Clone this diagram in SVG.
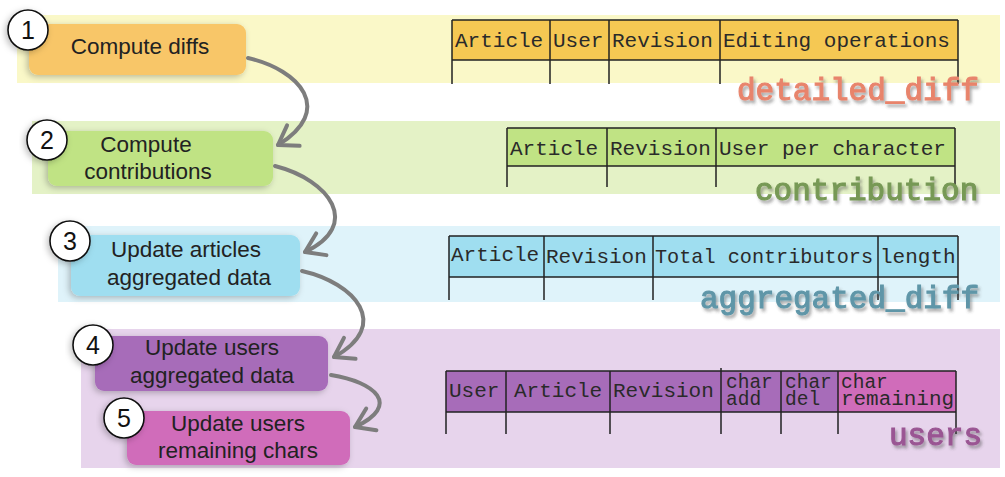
<svg xmlns="http://www.w3.org/2000/svg" width="1005" height="477" viewBox="0 0 1005 477">
<style>
.band{stroke:none}
.box{stroke:none;filter:url(#bs)}
.num{fill:#fff;stroke:#111;stroke-width:1.6;filter:url(#bs)}
.numt{font-family:"Liberation Sans",Arial,sans-serif;font-size:25px;fill:#111;text-anchor:middle}
.bt{font-family:"Liberation Sans",Arial,sans-serif;font-size:22.5px;fill:#222;text-anchor:middle}
.tt{font-family:"Liberation Mono","Courier New",monospace;font-size:21px;fill:#2a2a2a}
.ts{font-family:"Liberation Mono","Courier New",monospace;font-size:19.5px;fill:#2a2a2a}
.tl{stroke:#222;stroke-width:1.5;fill:none}
.lab{font-family:"Liberation Mono","Courier New",monospace;font-size:31px;stroke-width:1.1;filter:url(#ts)}
.arr{fill:none;stroke:#7d7d7d;stroke-width:4;stroke-linecap:round;marker-end:url(#ah)}
</style>
<defs>
<filter id="bs" x="-20%" y="-30%" width="140%" height="160%">
<feDropShadow dx="-2" dy="2" stdDeviation="3" flood-color="#000" flood-opacity="0.25"/>
</filter>
<filter id="ts" x="-10%" y="-30%" width="120%" height="160%">
<feDropShadow dx="2" dy="3" stdDeviation="1.6" flood-color="#444" flood-opacity="0.45"/>
</filter>
<marker id="ah" markerUnits="userSpaceOnUse" viewBox="-22 -16 26 32" refX="0" refY="0" markerWidth="26" markerHeight="32" orient="auto" overflow="visible">
<path d="M -18 -12 L 0 0 L -18 12" fill="none" stroke="#7d7d7d" stroke-width="4" stroke-linecap="round" stroke-linejoin="round"/>
</marker>
</defs>
<rect width="1005" height="477" fill="#fff"/>
<g id="bands">
<rect class="band" x="17" y="15" width="983" height="68" fill="#FAF8C8"/>
<rect class="band" x="32" y="121" width="968" height="73" fill="#E4F2C6"/>
<rect class="band" x="58" y="226" width="942" height="76" fill="#DFF3FA"/>
<rect class="band" x="81" y="329" width="919" height="139" fill="#E7D4EC"/>
</g>
<g id="step1">
<rect class="box" x="29" y="24" width="217" height="51" rx="9" fill="#F8C668"/>
<circle class="num" cx="28" cy="30" r="20"/>
<text class="numt" x="28" y="39">1</text>
<text class="bt" x="140" y="54">Compute diffs</text>
</g>
<g id="step2">
<rect class="box" x="48" y="131" width="225" height="55" rx="9" fill="#C0E384"/>
<circle class="num" cx="47" cy="140" r="20"/>
<text class="numt" x="47" y="149">2</text>
<text class="bt" x="146" y="152">Compute</text>
<text class="bt" x="148" y="179">contributions</text>
</g>
<g id="step3">
<rect class="box" x="71" y="235" width="229" height="61" rx="9" fill="#9FDEF0"/>
<circle class="num" cx="70" cy="241" r="20"/>
<text class="numt" x="70" y="250">3</text>
<text class="bt" x="186" y="257">Update articles</text>
<text class="bt" x="189" y="285">aggregated data</text>
</g>
<g id="step4">
<rect class="box" x="95" y="336" width="233" height="55" rx="9" fill="#A76CB9"/>
<circle class="num" cx="93" cy="345" r="20"/>
<text class="numt" x="93" y="354">4</text>
<text class="bt" x="212" y="355">Update users</text>
<text class="bt" x="212" y="383">aggregated data</text>
</g>
<g id="step5">
<rect class="box" x="127" y="411" width="223" height="54" rx="9" fill="#D06CBA"/>
<circle class="num" cx="124" cy="418" r="20"/>
<text class="numt" x="124" y="427">5</text>
<text class="bt" x="238" y="431">Update users</text>
<text class="bt" x="238" y="458">remaining chars</text>
</g>
<g id="connectors">
<path class="arr" d="M 248 58 C 300 70, 335 110, 278 145"/>
<path class="arr" d="M 275 166 C 330 180, 362 225, 305 252"/>
<path class="arr" d="M 302 271 C 355 283, 392 325, 334 357"/>
<path class="arr" d="M 331 375 C 375 382, 402 405, 355 427"/>
</g>
<g id="table-detailed_diff">
<rect x="452" y="20" width="506" height="40" fill="#F5C853"/>
<path class="tl" d="M452 20H958M452 60H958M452 20V84M550 20V84M609 20V84M720 20V84M958 20V84"/>
<text class="tt" x="455" y="47">Article</text>
<text class="tt" x="553" y="47">User</text>
<text class="tt" x="612" y="47">Revision</text>
<text class="tt" x="723" y="47">Editing operations</text>
<text class="lab" x="737" y="100" fill="#E8846C" stroke="#E8846C">detailed_diff</text>
</g>
<g id="table-contribution">
<rect x="507" y="128" width="448" height="38" fill="#C0E384"/>
<path class="tl" d="M507 128H955M507 166H955M507 128V187M607 128V187M716 128V187M955 128V187"/>
<text class="tt" x="510" y="155">Article</text>
<text class="tt" x="610" y="155">Revision</text>
<text class="tt" x="719" y="155">User per character</text>
<text class="lab" x="755" y="200" fill="#779955" stroke="#779955">contribution</text>
</g>
<g id="table-aggregated_diff">
<rect x="449" y="236" width="509" height="41" fill="#9FDEF0"/>
<path class="tl" d="M449 236H958M449 277H958M449 236V300M544 236V300M653 236V300M878 236V300M958 236V300"/>
<text class="tt" x="451" y="261">Article</text>
<text class="tt" x="546" y="263">Revision</text>
<text class="tt" x="655" y="263" textLength="218" lengthAdjust="spacingAndGlyphs">Total contributors</text>
<text class="tt" x="880" y="263">length</text>
<text class="lab" x="700" y="308" fill="#5F96A8" stroke="#5F96A8">aggregated_diff</text>
</g>
<g id="table-users">
<rect x="446" y="371" width="392" height="41" fill="#A76CB9"/>
<rect x="838" y="371" width="118" height="41" fill="#D06CBA"/>
<path class="tl" d="M446 371H956M446 412H956M446 371V434M506 371V434M610 371V434M721 368V434M781 371V434M838 371V434M956 371V434"/>
<text class="tt" x="449" y="397">User</text>
<text class="tt" x="514" y="397">Article</text>
<text class="tt" x="613" y="397">Revision</text>
<text class="ts" x="726" y="388">char</text>
<text class="ts" x="726" y="405">add</text>
<text class="ts" x="785" y="388">char</text>
<text class="ts" x="785" y="405">del</text>
<text class="ts" x="841" y="388">char</text>
<text class="ts" x="841" y="405" textLength="113" lengthAdjust="spacingAndGlyphs">remaining</text>
<text class="lab" x="889" y="445" fill="#9A5593" stroke="#9A5593">users</text>
</g>
</svg>
